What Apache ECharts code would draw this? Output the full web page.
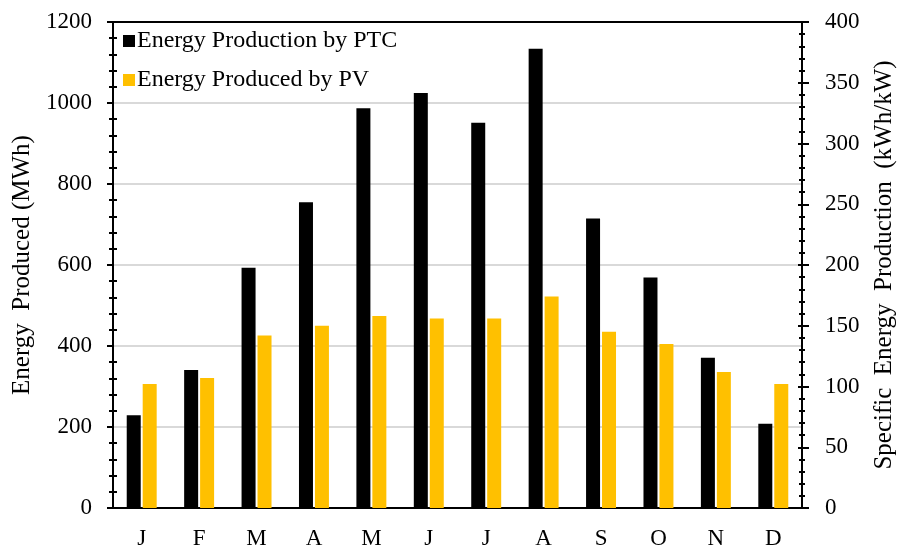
<!DOCTYPE html>
<html>
<head>
<meta charset="utf-8">
<script src="https://cdn.jsdelivr.net/npm/echarts@6/dist/echarts.min.js"></script>
<style>
  html, body { margin: 0; padding: 0; background: #fff; }
  #chart { width: 901px; height: 547px; }
</style>
</head>
<body>
<div id="chart"></div>
<script>
// months (x categories)
const months = ['J', 'F', 'M', 'A', 'M', 'J', 'J', 'A', 'S', 'O', 'N', 'D'];
// PTC production, MWh (left axis)
const ptcEnergy = [229, 341, 593, 755, 987, 1025, 951, 1134, 715, 569, 371, 208];
// PV specific production, kWh/kW (right axis)
const pvSpecific = [102, 107, 142, 150, 158, 156, 156, 174, 145, 135, 112, 102];

const font = 'Liberation Serif';
const txt = { color: '#000', fontFamily: font, fontSize: 23 };
const nameTxt = { color: '#000', fontFamily: font, fontSize: 25 };
const plain = (v) => String(v);

const chart = echarts.init(document.getElementById('chart'));

chart.setOption({
    backgroundColor: '#fff',
    animation: false,
    grid: {
        left: 113,
        right: 99,
        top: 22,
        bottom: 39,
        outerBoundsMode: 'none'
    },
    legend: {
        orient: 'vertical',
        left: 118,
        top: 24,
        itemWidth: 12,
        itemHeight: 12,
        itemGap: 15,
        icon: 'rect',
        textStyle: { color: '#000', fontFamily: font, fontSize: 24, padding: [0, 0, 0, -3] },
        data: ['Energy Production by PTC', 'Energy Produced by PV']
    },
    xAxis: [{
        type: 'category',
        data: months,
        axisLine: { lineStyle: { color: '#000', width: 2 } },
        axisTick: { show: false },
        axisLabel: Object.assign({ margin: 19 }, txt)
    }, {
        // top frame line
        type: 'category',
        position: 'top',
        data: months,
        axisLine: { show: true, onZero: false, lineStyle: { color: '#000', width: 2 } },
        axisTick: { show: false },
        axisLabel: { show: false }
    }],
    yAxis: [{
        type: 'value',
        min: 0,
        max: 1200,
        interval: 200,
        name: 'Energy  Produced (MWh)',
        nameLocation: 'middle',
        nameGap: 77,
        nameTextStyle: nameTxt,
        axisLine: { show: true, lineStyle: { color: '#000', width: 2 } },
        axisTick: { show: true, length: 6, lineStyle: { color: '#000', width: 2 } },
        minorTick: { show: true, splitNumber: 5, length: 4, lineStyle: { color: '#000', width: 2 } },
        axisLabel: Object.assign({ margin: 21, formatter: plain }, txt),
        splitLine: { show: true, lineStyle: { color: '#d9d9d9', width: 2 } }
    }, {
        type: 'value',
        min: 0,
        max: 400,
        interval: 50,
        position: 'right',
        name: 'Specific  Energy  Production  (kWh/kW)',
        nameLocation: 'middle',
        nameGap: 70,
        nameRotate: 90,
        nameTextStyle: nameTxt,
        axisLine: { show: true, lineStyle: { color: '#000', width: 2 } },
        axisTick: { show: true, length: 7, lineStyle: { color: '#000', width: 2 } },
        minorTick: { show: true, splitNumber: 5, length: 3, lineStyle: { color: '#000', width: 2 } },
        axisLabel: Object.assign({ margin: 23, formatter: plain }, txt),
        splitLine: { show: false }
    }, {
        // inner half of the crossing minor ticks on the left axis
        type: 'value',
        min: 0,
        max: 1200,
        interval: 200,
        position: 'left',
        axisLine: { show: false },
        axisTick: { show: false, inside: true },
        minorTick: { show: true, splitNumber: 5, length: 4, lineStyle: { color: '#000', width: 2 } },
        axisLabel: { show: false },
        splitLine: { show: false }
    }, {
        // inner half of the crossing ticks on the right axis
        type: 'value',
        min: 0,
        max: 400,
        interval: 50,
        position: 'right',
        axisLine: { show: false },
        axisTick: { show: true, inside: true, length: 4, lineStyle: { color: '#000', width: 2 } },
        minorTick: { show: true, splitNumber: 5, length: 3, lineStyle: { color: '#000', width: 2 } },
        axisLabel: { show: false },
        splitLine: { show: false }
    }],
    series: [{
        name: 'Energy Production by PTC',
        type: 'bar',
        yAxisIndex: 0,
        data: ptcEnergy,
        barWidth: 14,
        barGap: '14%',
        itemStyle: { color: '#000' }
    }, {
        name: 'Energy Produced by PV',
        type: 'bar',
        yAxisIndex: 1,
        data: pvSpecific,
        barWidth: 14,
        barGap: '14%',
        itemStyle: { color: '#ffc000' }
    }]
});
</script>
</body>
</html>
